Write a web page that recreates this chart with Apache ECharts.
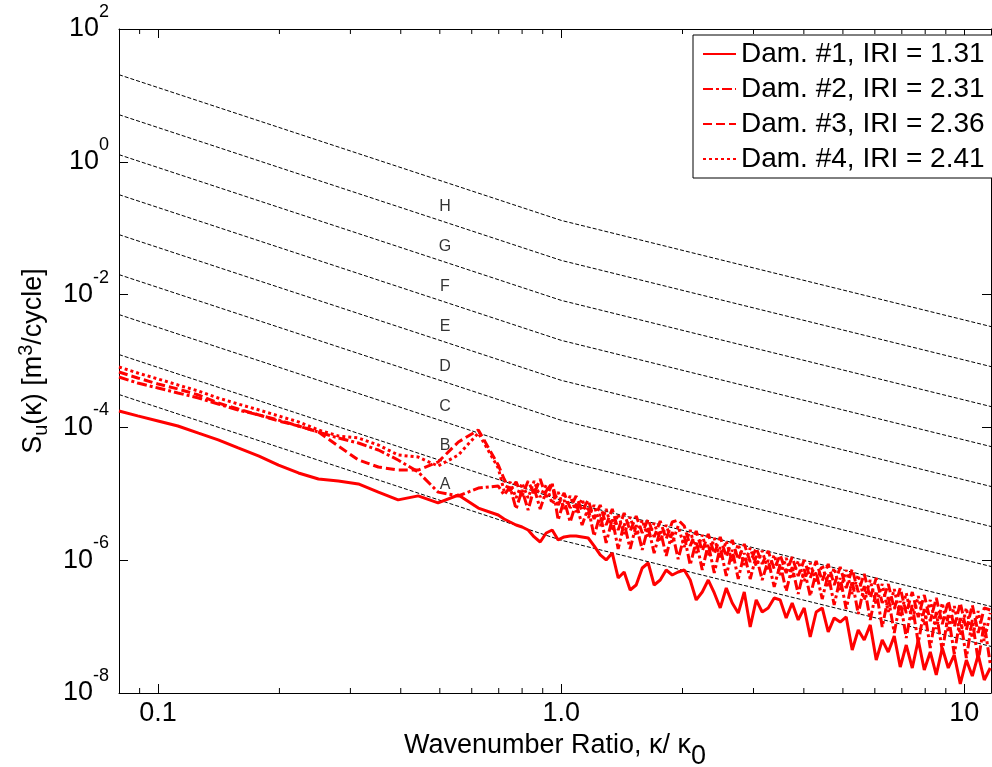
<!DOCTYPE html>
<html>
<head>
<meta charset="utf-8">
<script src="https://cdn.jsdelivr.net/npm/echarts@6/dist/echarts.min.js"></script>
<style>
  html, body { margin: 0; padding: 0; background: #fff; }
  #chart { width: 992px; height: 767px; }
</style>
</head>
<body>
<div id="chart"></div>
<script>
const FONT = "'Liberation Sans', Arial, sans-serif"

// wavenumber ratio k/k0 (shared by all four measured spectra)
const kappa = [
  0.080, 0.089, 0.100, 0.112, 0.126, 0.141, 0.158, 0.178, 0.199, 0.223,
  0.250, 0.280, 0.314, 0.352, 0.394, 0.442, 0.495, 0.556, 0.623, 0.698,
  0.722, 0.747, 0.773, 0.800, 0.828, 0.857, 0.887, 0.918, 0.950, 0.983,
  1.017, 1.053, 1.089, 1.127, 1.167, 1.207, 1.250, 1.293, 1.339, 1.385,
  1.433, 1.483, 1.535, 1.589, 1.644, 1.701, 1.761, 1.822, 1.886, 1.951,
  2.020, 2.090, 2.163, 2.239, 2.317, 2.398, 2.481, 2.568, 2.657, 2.750,
  2.846, 2.944, 3.047, 3.153, 3.263, 3.377, 3.494, 3.616, 3.742, 3.873,
  4.008, 4.148, 4.292, 4.442, 4.597, 4.757, 4.923, 5.095, 5.273, 5.457,
  5.647, 5.845, 6.048, 6.259, 6.478, 6.704, 6.937, 7.179, 7.430, 7.689,
  7.958, 8.235, 8.522, 8.820, 9.127, 9.445, 9.775, 10.12, 10.47, 10.83,
  11.21, 11.60
]

// Dam. #1 (solid)
const dam1 = [
  1.77e-4, 1.49e-4, 1.25e-4, 1.05e-4, 8.2e-5, 6.5e-5, 4.9e-5, 3.7e-5, 2.7e-5, 2.06e-5,
  1.67e-5, 1.56e-5, 1.41e-5, 1.06e-5, 8.1e-6, 9.3e-6, 7.3e-6, 9.6e-6, 6.1e-6, 4.8e-6,
  4.17e-6, 3.76e-6, 3.39e-6, 3.16e-6, 2.85e-6, 2.24e-6, 1.88e-6, 2.57e-6, 2.85e-6, 2.02e-6,
  2.24e-6, 2.31e-6, 2.31e-6, 2.24e-6, 2.16e-6, 1.64e-6, 1.20e-6, 1.01e-6, 1.28e-6, 5.40e-7,
  6.64e-7, 3.56e-7, 4.23e-7, 7.63e-7, 9.08e-7, 4.23e-7, 5.03e-7, 7.12e-7, 5.99e-7, 6.64e-7,
  7.12e-7, 5.03e-7, 2.52e-7, 3.32e-7, 5.03e-7, 3.21e-7, 1.91e-7, 3.82e-7, 2.27e-7, 1.60e-7,
  3.32e-7, 9.86e-8, 2.52e-7, 1.66e-7, 1.91e-7, 2.70e-7, 2.52e-7, 1.35e-7, 2.27e-7, 1.26e-7,
  1.91e-7, 6.97e-8, 1.66e-7, 1.91e-7, 8.30e-8, 1.35e-7, 1.17e-7, 1.40e-7, 4.44e-8, 8.89e-8,
  6.28e-8, 1.06e-7, 3.14e-8, 6.28e-8, 4.15e-8, 7.22e-8, 2.46e-8, 5.28e-8, 2.38e-8, 6.28e-8,
  2.22e-8, 4.15e-8, 1.87e-8, 4.76e-8, 2.38e-8, 3.74e-8, 1.37e-8, 3.14e-8, 1.80e-8, 3.74e-8,
  1.57e-8, 2.38e-8
]

// Dam. #2 (dash-dot)
const dam2 = [
  5.74e-4, 4.66e-4, 3.92e-4, 3.30e-4, 2.77e-4, 2.25e-4, 1.83e-4, 1.54e-4, 1.29e-4, 1.05e-4,
  8.53e-5, 6.93e-5, 5.82e-5, 4.57e-5, 3.23e-5, 2.13e-5, 1.06e-5, 9.27e-6, 1.22e-5, 1.31e-5,
  9.59e-6, 1.27e-5, 5.91e-6, 1.14e-5, 5.70e-6, 1.22e-5, 5.91e-6, 1.10e-5, 1.45e-5, 4.03e-6,
  8.07e-6, 3.76e-6, 7.27e-6, 3.39e-6, 6.11e-6, 2.31e-6, 4.96e-6, 1.82e-6, 4.17e-6, 1.48e-6,
  3.63e-6, 1.48e-6, 3.39e-6, 1.43e-6, 3.16e-6, 1.28e-6, 2.85e-6, 1.16e-6, 2.66e-6, 1.04e-6,
  2.31e-6, 8.47e-7, 1.95e-6, 7.12e-7, 1.75e-6, 6.42e-7, 1.58e-6, 5.78e-7, 1.43e-6, 5.21e-7,
  1.28e-6, 5.21e-7, 1.16e-6, 5.03e-7, 1.01e-6, 3.95e-7, 8.77e-7, 3.44e-7, 7.90e-7, 3.10e-7,
  7.37e-7, 2.89e-7, 6.64e-7, 2.60e-7, 6.20e-7, 2.12e-7, 5.40e-7, 1.84e-7, 4.86e-7, 1.55e-7,
  4.09e-7, 1.26e-7, 3.44e-7, 9.86e-8, 2.79e-7, 8.01e-8, 2.43e-7, 6.74e-8, 2.12e-7, 5.66e-8,
  1.84e-7, 4.76e-8, 1.66e-7, 4.29e-8, 1.50e-7, 3.87e-8, 1.35e-7, 3.37e-8, 1.26e-7, 3.03e-8,
  1.13e-7, 2.73e-8
]

// Dam. #3 (dashed)
const dam3 = [
  6.83e-4, 5.55e-4, 4.50e-4, 3.79e-4, 3.08e-4, 2.33e-4, 1.89e-4, 1.54e-4, 1.25e-4, 1.05e-4,
  8.53e-5, 5.25e-5, 3.23e-5, 2.53e-5, 2.28e-5, 2.28e-5, 3.01e-5, 6.03e-5, 9.14e-5, 2.72e-5,
  1.67e-5, 1.10e-5, 1.51e-5, 9.27e-6, 1.56e-5, 9.93e-6, 1.67e-5, 8.95e-6, 1.40e-5, 6.78e-6,
  1.03e-5, 6.11e-6, 9.27e-6, 5.51e-6, 8.07e-6, 4.17e-6, 6.78e-6, 3.39e-6, 5.91e-6, 2.85e-6,
  5.14e-6, 2.75e-6, 4.63e-6, 2.57e-6, 4.17e-6, 2.24e-6, 3.89e-6, 2.09e-6, 3.76e-6, 4.03e-6,
  3.27e-6, 1.64e-6, 2.75e-6, 1.38e-6, 2.48e-6, 1.24e-6, 2.24e-6, 1.12e-6, 2.02e-6, 1.01e-6,
  1.75e-6, 9.40e-7, 1.53e-6, 8.77e-7, 1.38e-6, 7.37e-7, 1.20e-6, 6.42e-7, 1.12e-6, 5.78e-7,
  1.01e-6, 5.40e-7, 9.73e-7, 4.86e-7, 8.77e-7, 4.23e-7, 7.90e-7, 3.81e-7, 7.37e-7, 3.32e-7,
  6.20e-7, 2.70e-7, 5.40e-7, 2.27e-7, 4.38e-7, 1.84e-7, 3.81e-7, 1.60e-7, 3.32e-7, 1.39e-7,
  2.99e-7, 1.21e-7, 2.70e-7, 1.09e-7, 2.43e-7, 9.86e-8, 2.27e-7, 8.89e-8, 2.12e-7, 8.01e-8,
  1.91e-7, 1.78e-7
]

// Dam. #4 (dotted)
const dam4 = [
  8.12e-4, 6.60e-4, 5.36e-4, 4.35e-4, 3.53e-4, 2.77e-4, 2.25e-4, 1.83e-4, 1.49e-4, 1.21e-4,
  9.14e-5, 7.42e-5, 6.93e-5, 5.43e-5, 3.84e-5, 3.58e-5, 2.62e-5, 3.84e-5, 8.24e-5, 2.45e-5,
  1.10e-5, 1.51e-5, 8.65e-6, 1.45e-5, 8.65e-6, 1.56e-5, 8.95e-6, 1.36e-5, 7.02e-6, 1.06e-5,
  5.91e-6, 9.27e-6, 5.32e-6, 8.35e-6, 4.32e-6, 6.78e-6, 3.27e-6, 5.91e-6, 2.75e-6, 4.96e-6,
  2.48e-6, 4.47e-6, 2.31e-6, 4.03e-6, 2.16e-6, 3.63e-6, 1.95e-6, 3.39e-6, 1.82e-6, 3.27e-6,
  1.58e-6, 2.85e-6, 1.28e-6, 2.40e-6, 1.16e-6, 2.16e-6, 1.04e-6, 1.95e-6, 9.40e-7, 1.75e-6,
  8.47e-7, 1.53e-6, 8.18e-7, 1.38e-6, 6.88e-7, 1.20e-6, 5.99e-7, 1.08e-6, 5.40e-7, 9.73e-7,
  4.86e-7, 9.08e-7, 4.54e-7, 8.47e-7, 4.09e-7, 7.63e-7, 3.44e-7, 7.12e-7, 3.10e-7, 5.99e-7,
  2.52e-7, 5.03e-7, 2.12e-7, 4.38e-7, 1.66e-7, 3.68e-7, 1.39e-7, 3.21e-7, 1.21e-7, 2.89e-7,
  1.06e-7, 2.52e-7, 9.20e-8, 2.27e-7, 8.29e-8, 2.04e-7, 7.48e-8, 1.91e-7, 6.74e-8, 1.72e-7,
  6.07e-8, 1.60e-7
]

const damNames = ['Dam. #1, IRI = 1.31', 'Dam. #2, IRI = 2.31', 'Dam. #3, IRI = 2.36', 'Dam. #4, IRI = 2.41']
const damDash = ['solid', [10, 3, 3, 3], [9, 4], [3, 3]]
const damData = [dam1, dam2, dam3, dam4]

// road class boundary lines, sampled at k/k0 = 0.08, 1 and 11.65
const isoX = [0.08, 1, 11.65]
const isoLeft = [3.125e-4, 1.25e-3, 5.0e-3, 2.0e-2, 8.0e-2, 0.32, 1.28, 5.12, 20.48]
const isoMid = [2.0e-6, 8.0e-6, 3.2e-5, 1.28e-4, 5.12e-4, 2.048e-3, 8.192e-3, 3.2768e-2, 0.131072]
const isoRight = [5.03e-8, 2.01e-7, 8.05e-7, 3.22e-6, 1.29e-5, 5.15e-5, 2.06e-4, 8.24e-4, 3.30e-3]

// class letters
const classNames = ['A', 'B', 'C', 'D', 'E', 'F', 'G', 'H']
const classX = 0.515
const classY = [1.36e-5, 5.3e-5, 2.05e-4, 8.21e-4, 3.29e-3, 1.315e-2, 5.26e-2, 0.2108]

// minor ticks of the x axis
const xMinorTicks = [0.09, 0.2, 0.3, 0.4, 0.5, 0.6, 0.7, 0.8, 0.9, 2, 3, 4, 5, 6, 7, 8, 9]

const myChart = echarts.init(document.getElementById('chart'))

const xLabel = (v) => {
  const e = Math.round(Math.log10(v))
  if (e === -1) return '0.1'
  if (e === 0) return '1.0'
  return '10'
}
const yLabel = (v) => '{b|10}{s|' + Math.round(Math.log10(v)) + '}'

const isoSeries = isoMid.map((m, i) => ({
  type: 'line',
  data: isoX.map((x, j) => [x, [isoLeft, isoMid, isoRight][j][i]]),
  symbol: 'none',
  silent: true,
  z: 2,
  lineStyle: { color: '#000', width: 1, type: [4, 2] }
}))

const damSeries = damData.map((d, i) => ({
  name: damNames[i],
  type: 'line',
  data: kappa.map((k, j) => [k, d[j]]),
  symbol: 'none',
  z: 5,
  lineStyle: { color: '#ff0000', width: 3, type: damDash[i] },
  itemStyle: { color: '#ff0000' }
}))

const baseX = {
  type: 'log',
  logBase: 10,
  min: 0.08,
  max: 11.65,
  axisLine: { show: true, onZero: false, lineStyle: { color: '#000', width: 1 } },
  axisTick: { show: true, inside: true, length: 9, lineStyle: { color: '#000' } },
  splitLine: { show: false },
  minorTick: { show: false }
}
const baseY = {
  type: 'log',
  logBase: 10,
  min: 1e-8,
  max: 100,
  interval: 2,
  axisLine: { show: true, onZero: false, lineStyle: { color: '#000', width: 1 } },
  axisTick: { show: true, inside: true, length: 9, lineStyle: { color: '#000' } },
  splitLine: { show: false }
}

const option = {
  animation: false,
  backgroundColor: '#fff',
  grid: { left: 119, top: 29, right: 1, bottom: 74, outerBoundsMode: 'none' },
  legend: {
    data: damNames,
    orient: 'vertical',
    left: 693,
    top: 35,
    itemWidth: 33,
    itemHeight: 14,
    itemGap: 7,
    padding: [5, 8, 5, 9],
    borderColor: '#000',
    borderWidth: 1,
    borderRadius: 0,
    backgroundColor: '#fff',
    selectedMode: false,
    itemStyle: { opacity: 0, borderWidth: 0 },
    textStyle: { fontSize: 28, lineHeight: 27, fontFamily: FONT, color: '#000' }
  },
  xAxis: [
    Object.assign({}, baseX, {
      position: 'bottom',
      name: '{t|Wavenumber Ratio, κ/ κ}{sub|0}',
      nameLocation: 'middle',
      nameGap: 12,
      nameTextStyle: {
        color: '#000', fontFamily: FONT, fontSize: 27,
        rich: {
          t: { fontSize: 27, fontFamily: FONT, color: '#000' },
          sub: { fontSize: 27, fontFamily: FONT, color: '#000', padding: [22, 0, 0, 0] }
        }
      },
      axisLabel: {
        show: true, margin: 7, fontSize: 27, fontFamily: FONT, color: '#000',
        showMinLabel: false, showMaxLabel: false,
        formatter: xLabel
      }
    }),
    Object.assign({}, baseX, {
      position: 'top',
      axisLabel: { show: false }
    })
  ],
  yAxis: [
    Object.assign({}, baseY, {
      position: 'left',
      name: '{t|S}{sub|u}{t|(κ) [m}{sup|3}{t|/cycle]}',
      nameLocation: 'middle',
      nameGap: 67,
      nameTextStyle: {
        color: '#000', fontFamily: FONT, fontSize: 27,
        rich: {
          t: { fontSize: 27, fontFamily: FONT, color: '#000' },
          sub: { fontSize: 20, fontFamily: FONT, color: '#000', padding: [14, 0, 0, 0] },
          sup: { fontSize: 20, fontFamily: FONT, color: '#000', padding: [0, 0, 16, 0] }
        }
      },
      axisLabel: {
        show: true, margin: 10, fontFamily: FONT, color: '#000',
        formatter: yLabel,
        rich: {
          b: { fontSize: 27, fontFamily: FONT, color: '#000' },
          s: { fontSize: 18, fontFamily: FONT, color: '#000', padding: [0, 0, 34, 0] }
        }
      }
    }),
    Object.assign({}, baseY, {
      position: 'right',
      axisLabel: { show: false }
    })
  ],
  series: [
    ...isoSeries,
    {
      type: 'scatter',
      data: classY.map((v, i) => ({ value: [classX, v], name: classNames[i] })),
      symbolSize: 1,
      silent: true,
      z: 3,
      itemStyle: { color: 'transparent' },
      label: {
        show: true, position: 'inside', formatter: '{b}',
        fontSize: 16, fontFamily: FONT, color: '#000'
      }
    },
    ...damSeries,
    {
      type: 'custom',
      silent: true,
      z: 10,
      clip: false,
      data: xMinorTicks.map(v => [v, 1]),
      renderItem: (params, api) => {
        const p = api.coord([api.value(0), 1])
        const cs = params.coordSys
        const yb = cs.y + cs.height
        return {
          type: 'group',
          children: [
            { type: 'line', shape: { x1: p[0], y1: yb, x2: p[0], y2: yb - 5 }, style: { stroke: '#000', lineWidth: 1 } },
            { type: 'line', shape: { x1: p[0], y1: cs.y, x2: p[0], y2: cs.y + 5 }, style: { stroke: '#000', lineWidth: 1 } }
          ]
        }
      }
    }
  ]
}

myChart.setOption(option)
</script>
</body>
</html>
